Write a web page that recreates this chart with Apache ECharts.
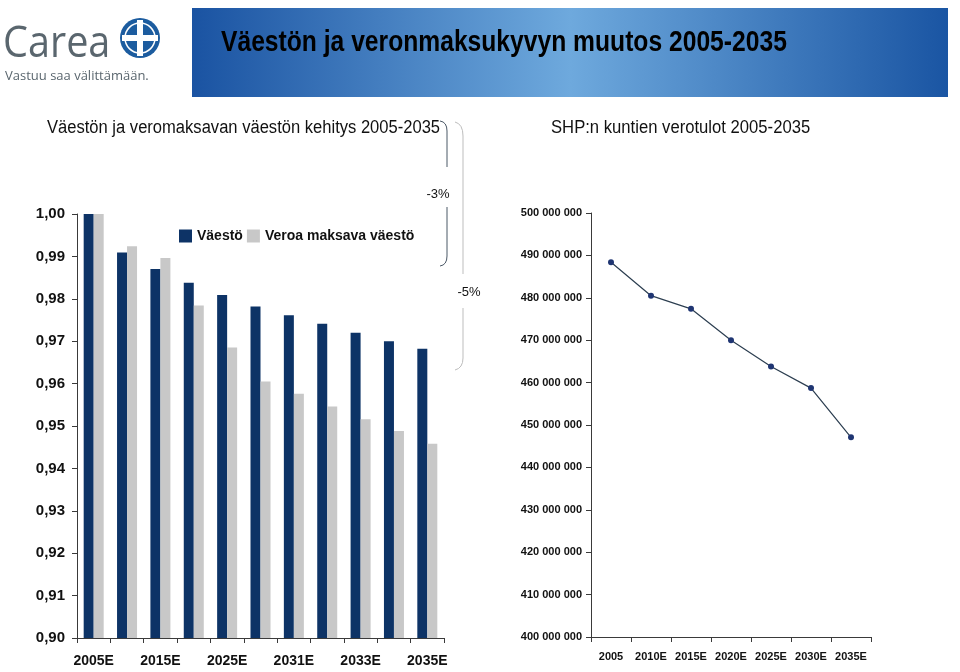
<!DOCTYPE html>
<html><head><meta charset="utf-8">
<script src="https://cdn.jsdelivr.net/npm/echarts@6/dist/echarts.min.js"></script>
<style>html,body{margin:0;padding:0;background:#fff}#c{width:960px;height:672px}</style>
</head><body><div id="c"></div>
<script>
const leftCategories = ['2005E','2010E','2015E','2020E','2025E','2030E','2031E','2032E','2033E','2034E','2035E'];
const vaesto = [1.000, 0.9909, 0.9870, 0.9838, 0.9809, 0.9782, 0.9761, 0.9741, 0.9720, 0.9700, 0.9682];
const veroaMaksava = [1.000, 0.9924, 0.9896, 0.9784, 0.9685, 0.9605, 0.9576, 0.9546, 0.9516, 0.9488, 0.9458];
const rightCategories = ['2005','2010E','2015E','2020E','2025E','2030E','2035E'];
const verotulot = [488.4e6, 480.5e6, 477.4e6, 470.0e6, 463.8e6, 458.7e6, 447.1e6];

const NF = "'Liberation Sans',Arial,sans-serif";
const LF = "'Open Sans','Noto Sans',sans-serif";
const chart = echarts.init(document.getElementById('c'));
const axisLine = {show:true, lineStyle:{color:'#3a3a3a', width:1}};
const tick = {show:true, length:5, lineStyle:{color:'#3a3a3a'}};
chart.setOption({
  animation:false,
  backgroundColor:'#fff',
  legend:{
    left:179, top:229, padding:0, itemWidth:13, itemHeight:13, itemGap:4,
    icon:'rect',
    textStyle:{fontFamily:NF, fontWeight:'bold', fontSize:14, color:'#111'},
    data:['Väestö','Veroa maksava väestö']
  },
  grid:[
    {left:77, top:214, width:367, height:424},
    {left:591, top:213, width:280, height:424}
  ],
  xAxis:[
    {type:'category', gridIndex:0, data:leftCategories, boundaryGap:true,
     axisLine:axisLine, axisTick:Object.assign({interval:0}, tick),
     axisLabel:{interval:1, margin:16, fontFamily:NF, fontWeight:'bold', fontSize:14, color:'#111'}},
    {type:'category', gridIndex:1, data:rightCategories, boundaryGap:true,
     axisLine:axisLine, axisTick:Object.assign({interval:0}, tick),
     axisLabel:{interval:0, margin:14, fontFamily:NF, fontWeight:'bold', fontSize:11, color:'#111'}}
  ],
  yAxis:[
    {type:'value', gridIndex:0, min:0.90, max:1.00, interval:0.01,
     axisLine:axisLine, axisTick:tick, splitLine:{show:false},
     axisLabel:{margin:12, fontFamily:NF, fontWeight:'bold', fontSize:15, color:'#111',
       formatter:v=>v.toFixed(2).replace('.',',')}},
    {type:'value', gridIndex:1, min:400000000, max:500000000, interval:10000000,
     axisLine:axisLine, axisTick:tick, splitLine:{show:false},
     axisLabel:{margin:9, fontFamily:NF, fontWeight:'bold', fontSize:11, color:'#111',
       formatter:v=>String(Math.round(v)).replace(/\B(?=(\d{3})+(?!\d))/g,' ')}}
  ],
  series:[
    {name:'Väestö', type:'bar', xAxisIndex:0, yAxisIndex:0, data:vaesto,
     barWidth:10, barGap:'0%', itemStyle:{color:'#0d3366'}},
    {name:'Veroa maksava väestö', type:'bar', xAxisIndex:0, yAxisIndex:0, data:veroaMaksava,
     barWidth:10, barGap:'0%', itemStyle:{color:'#c8c8c8'}},
    {name:'Verotulot', type:'line', xAxisIndex:1, yAxisIndex:1, data:verotulot,
     symbol:'circle', symbolSize:6, lineStyle:{color:'#2c3e50', width:1.2},
     itemStyle:{color:'#1f3572'}}
  ],
  graphic:[
    {type:'rect', shape:{x:192,y:8,width:756,height:89}, z:0,
     style:{fill:new echarts.graphic.LinearGradient(0,0,1,0,[
       {offset:0,color:'#1a53a2'},{offset:0.5,color:'#6ea9dd'},{offset:1,color:'#1a55a3'}])}},
    {type:'text', x:221, y:43, z:2, scaleX:0.85,
     style:{text:'Väestön ja veronmaksukyvyn muutos 2005-2035', fontFamily:NF, fontWeight:'bold',
       fontSize:29, fill:'#000', verticalAlign:'middle'}},
    // logo
    {type:'text', x:3, y:44, z:2, scaleX:0.9,
     style:{text:'Carea', fontFamily:LF, fontSize:44, fill:'#5a666e', verticalAlign:'middle'}},
    {type:'circle', shape:{cx:140, cy:38, r:20}, z:2, style:{fill:'#1c5c9f'}},
    {type:'circle', shape:{cx:140, cy:38, r:15}, z:3, style:{fill:'none', stroke:'#ffffff', lineWidth:1.5}},
    {type:'rect', shape:{x:137, y:20, width:6, height:36}, z:4, style:{fill:'#ffffff'}},
    {type:'rect', shape:{x:122, y:35, width:36, height:6}, z:4, style:{fill:'#ffffff'}},
    {type:'text', x:5, y:76, z:2,
     style:{text:'Vastuu saa välittämään.', fontFamily:LF, fontSize:13, fill:'#5a666e', verticalAlign:'middle'}},
    // subtitles
    {type:'text', x:47, y:128, z:2, scaleX:0.92,
     style:{text:'Väestön ja veromaksavan väestön kehitys 2005-2035', fontFamily:NF, fontSize:18, fill:'#111', verticalAlign:'middle'}},
    {type:'text', x:551, y:128, z:2, scaleX:0.925,
     style:{text:'SHP:n kuntien verotulot 2005-2035', fontFamily:NF, fontSize:18, fill:'#111', verticalAlign:'middle'}},
    // braces (inner)
    {type:'bezierCurve', z:2, shape:{x1:440,y1:121,cpx1:447,cpy1:122,x2:447,y2:131}, style:{fill:'none', stroke:'#4b5866', lineWidth:1}},
    {type:'line', z:2, shape:{x1:447,y1:131,x2:447,y2:167}, style:{stroke:'#4b5866', lineWidth:1}},
    {type:'line', z:2, shape:{x1:447,y1:207,x2:447,y2:256}, style:{stroke:'#4b5866', lineWidth:1}},
    {type:'bezierCurve', z:2, shape:{x1:447,y1:256,cpx1:447,cpy1:265,x2:440,y2:266}, style:{fill:'none', stroke:'#4b5866', lineWidth:1}},
    // braces (outer)
    {type:'bezierCurve', z:2, shape:{x1:455,y1:122,cpx1:463,cpy1:124,x2:463,y2:136}, style:{fill:'none', stroke:'#bdbdbd', lineWidth:1}},
    {type:'line', z:2, shape:{x1:463,y1:136,x2:463,y2:274}, style:{stroke:'#bdbdbd', lineWidth:1}},
    {type:'line', z:2, shape:{x1:463,y1:308,x2:463,y2:358}, style:{stroke:'#bdbdbd', lineWidth:1}},
    {type:'bezierCurve', z:2, shape:{x1:463,y1:358,cpx1:463,cpy1:368,x2:455,y2:370}, style:{fill:'none', stroke:'#bdbdbd', lineWidth:1}},
    {type:'text', x:438, y:194, z:2,
     style:{text:'-3%', fontFamily:NF, fontSize:13, fill:'#111', align:'center', verticalAlign:'middle'}},
    {type:'text', x:469, y:292, z:2,
     style:{text:'-5%', fontFamily:NF, fontSize:13, fill:'#111', align:'center', verticalAlign:'middle'}}
  ]
});
</script></body></html>
